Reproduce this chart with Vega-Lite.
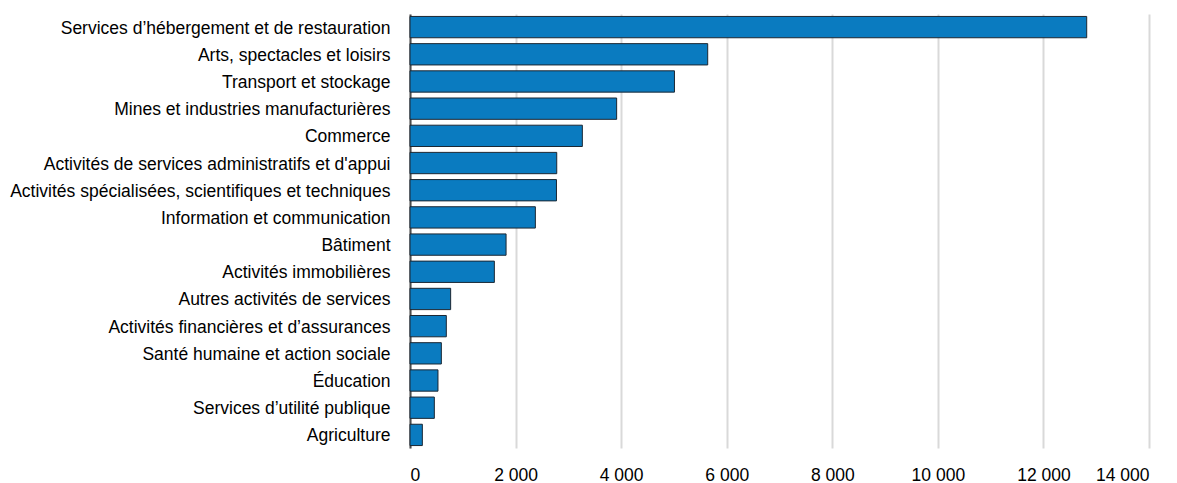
{
  "$schema": "https://vega.github.io/schema/vega-lite/v6.json",
  "autosize": "none",
  "width": 739,
  "height": 434,
  "padding": {"left": 410, "top": 14, "right": 28, "bottom": 35},
  "background": "white",
  "data": {
    "values": [
      {"secteur": "Services d’hébergement et de restauration", "valeur": 12820},
      {"secteur": "Arts, spectacles et loisirs", "valeur": 5640},
      {"secteur": "Transport et stockage", "valeur": 5010},
      {"secteur": "Mines et industries manufacturières", "valeur": 3915},
      {"secteur": "Commerce", "valeur": 3265},
      {"secteur": "Activités de services administratifs et d'appui", "valeur": 2780},
      {"secteur": "Activités spécialisées, scientifiques et techniques", "valeur": 2775},
      {"secteur": "Information et communication", "valeur": 2375},
      {"secteur": "Bâtiment", "valeur": 1820},
      {"secteur": "Activités immobilières", "valeur": 1598},
      {"secteur": "Autres activités de services", "valeur": 770},
      {"secteur": "Activités financières et d’assurances", "valeur": 688},
      {"secteur": "Santé humaine et action sociale", "valeur": 594},
      {"secteur": "Éducation", "valeur": 530},
      {"secteur": "Services d’utilité publique", "valeur": 461},
      {"secteur": "Agriculture", "valeur": 234}
    ]
  },
  "mark": {"type": "bar", "color": "#0A7BC0", "stroke": "#1b2733", "strokeWidth": 1},
  "encoding": {
    "y": {
      "field": "secteur",
      "type": "nominal",
      "sort": null,
      "scale": {"paddingInner": 0.216, "paddingOuter": 0.09},
      "axis": {
        "title": null,
        "ticks": false,
        "labelPadding": 20,
        "labelOffset": 1.5,
        "labelFont": "Liberation Sans",
        "labelFontSize": 17.5,
        "labelColor": "#000000",
        "labelLimit": 420,
        "domain": true,
        "domainColor": "#4d4d4d",
        "domainWidth": 2,
        "grid": false
      }
    },
    "x": {
      "field": "valeur",
      "type": "quantitative",
      "scale": {"domain": [0, 14000], "nice": false},
      "axis": {
        "title": null,
        "values": [0, 2000, 4000, 6000, 8000, 10000, 12000, 14000],
        "labelExpr": "replace(format(datum.value, ','), ',', ' ')",
        "ticks": false,
        "domain": false,
        "grid": true,
        "gridColor": "#d9d9d9",
        "gridWidth": 2,
        "labelPadding": 18,
        "labelFont": "Liberation Sans",
        "labelFontSize": 17.5,
        "labelColor": "#000000"
      }
    }
  },
  "config": {"view": {"stroke": null}}
}
